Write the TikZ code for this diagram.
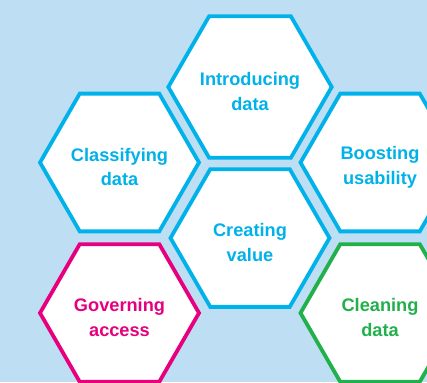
\documentclass[tikz,border=0pt]{standalone}
\usepackage{fontspec}
\setsansfont{Liberation Sans}
\usetikzlibrary{shapes.geometric}

\definecolor{skyback}{HTML}{BEDEF4}
\definecolor{cellblue}{HTML}{00B2E9}
\definecolor{cellpink}{HTML}{E6007E}
\definecolor{cellgreen}{HTML}{22B04B}

\tikzset{
  hexcell/.style={regular polygon, regular polygon sides=6,
    minimum size=159pt, inner sep=0pt, line width=3.8pt,
    fill=white, draw=#1, text=#1, align=center, text height=47pt,
    font=\sffamily\bfseries\fontsize{18.2}{24.5}\selectfont}
}

\begin{document}
\begin{tikzpicture}[x=1pt,y=-1pt]
    % Background
    \fill[skyback] (0,0) rectangle (427,382);
    \useasboundingbox (0,0) rectangle (427,382);
    \clip (0,0) rectangle (427,382);
    % Middle column
    \node[hexcell=cellblue] (intro) at (250,87) {Introducing\\data};
    \node[hexcell=cellblue] (value) at (250,238) {Creating\\value};
    % Left column
    \node[hexcell=cellblue] (classify) at (119.5,162.5) {Classifying\\data};
    \node[hexcell=cellpink] (govern) at (119.5,313) {Governing\\access};
    % Right column
    \node[hexcell=cellblue] (boost) at (380,162.5) {Boosting\\usability};
    \node[hexcell=cellgreen] (clean) at (380,313) {Cleaning\\data};
\end{tikzpicture}
\end{document}
